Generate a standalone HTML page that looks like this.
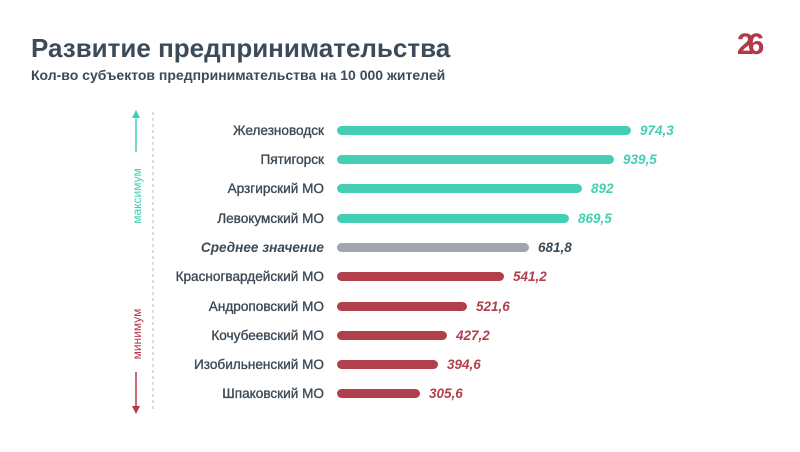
<!DOCTYPE html><html><head><meta charset="utf-8"><style>
body{margin:0;width:800px;height:452px;background:#fff;font-family:"Liberation Sans",sans-serif;position:relative;overflow:hidden}
.t{position:absolute;left:31px;top:33px;font-size:26px;font-weight:bold;color:#3d4b58}
.s{position:absolute;left:31px;top:67px;font-size:14px;font-weight:bold;color:#3d4b58}
.lab{position:absolute;right:476px;font-size:13.6px;color:#3d4a55;white-space:nowrap;-webkit-text-stroke:0.35px #3d4a55}
.bar{position:absolute;left:337px;height:9px;border-radius:4.5px}
.val{position:absolute;font-size:13.5px;font-weight:bold;font-style:italic}
</style></head><body>
<div class="t">Развитие предпринимательства</div>
<div class="s">Кол-во субъектов предпринимательства на 10 000 жителей</div>
<div style="position:absolute;left:737px;top:28px;font-size:30px;font-weight:bold;color:#b23a48;letter-spacing:-6px">26</div>
<svg width="800" height="452" style="position:absolute;left:0;top:0">
<line x1="153" y1="112" x2="153" y2="412" stroke="#bbb" stroke-dasharray="3,3"/>
<line x1="136" y1="114" x2="136" y2="152" stroke="#3fcdb3" stroke-width="1.5"/>
<polygon points="132,118 140,118 136,110" fill="#3fcdb3"/>
<text transform="translate(141,196) rotate(-90)" text-anchor="middle" font-size="12" fill="#3fcdb3" font-family="Liberation Sans">максимум</text>
<text transform="translate(141,334) rotate(-90)" text-anchor="middle" font-size="12" fill="#b23a48" font-family="Liberation Sans">минимум</text>
<line x1="136" y1="372" x2="136" y2="410" stroke="#b23a48" stroke-width="1.5"/>
<polygon points="132,406 140,406 136,414" fill="#b23a48"/>
</svg>
<div class="lab" style="top:123px">Железноводск</div>
<div class="lab" style="top:152px">Пятигорск</div>
<div class="lab" style="top:181px">Арзгирский МО</div>
<div class="lab" style="top:211px">Левокумский МО</div>
<div class="lab" style="top:240px;font-weight:bold;font-style:italic;-webkit-text-stroke:0">Среднее значение</div>
<div class="lab" style="top:269px">Красногвардейский МО</div>
<div class="lab" style="top:299px">Андроповский МО</div>
<div class="lab" style="top:328px">Кочубеевский МО</div>
<div class="lab" style="top:357px">Изобильненский МО</div>
<div class="lab" style="top:386px">Шпаковский МО</div>
<div class="bar" style="top:126px;width:294px;background:#44cfb4"></div>
<div class="bar" style="top:155px;width:277px;background:#44cfb4"></div>
<div class="bar" style="top:184px;width:245px;background:#44cfb4"></div>
<div class="bar" style="top:214px;width:232px;background:#44cfb4"></div>
<div class="bar" style="top:243px;width:192px;background:#a0a6ab"></div>
<div class="bar" style="top:272px;width:167px;background:#b2404c"></div>
<div class="bar" style="top:302px;width:130px;background:#b2404c"></div>
<div class="bar" style="top:331px;width:110px;background:#b2404c"></div>
<div class="bar" style="top:360px;width:101px;background:#b2404c"></div>
<div class="bar" style="top:389px;width:83px;background:#b2404c"></div>
<div class="val" style="left:640px;top:123px;color:#44cfb4">974,3</div>
<div class="val" style="left:623px;top:152px;color:#44cfb4">939,5</div>
<div class="val" style="left:591px;top:181px;color:#44cfb4">892</div>
<div class="val" style="left:578px;top:211px;color:#44cfb4">869,5</div>
<div class="val" style="left:538px;top:240px;color:#3d4a55">681,8</div>
<div class="val" style="left:513px;top:269px;color:#b2404c">541,2</div>
<div class="val" style="left:476px;top:299px;color:#b2404c">521,6</div>
<div class="val" style="left:456px;top:328px;color:#b2404c">427,2</div>
<div class="val" style="left:447px;top:357px;color:#b2404c">394,6</div>
<div class="val" style="left:429px;top:386px;color:#b2404c">305,6</div>
</body></html>
